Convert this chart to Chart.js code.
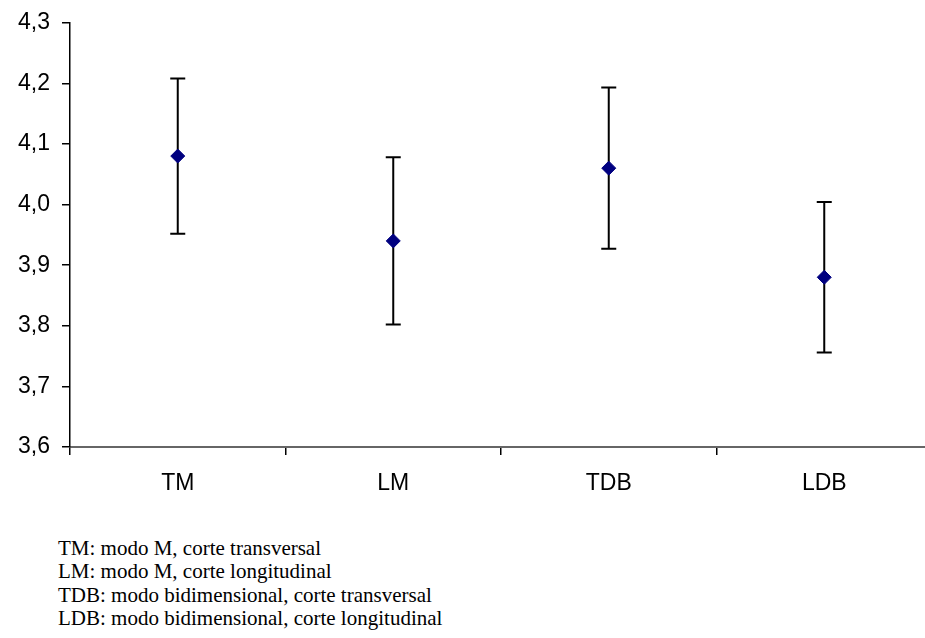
<!DOCTYPE html>
<html>
<head>
<meta charset="utf-8">
<script src="https://cdn.jsdelivr.net/npm/chart.js@4"></script>
<style>
html, body { margin: 0; padding: 0; background: #fff; overflow: hidden; width: 925px; height: 638px; }
#wrap { position: absolute; left: 0; top: 0; width: 940px; height: 520px; }
#notes { position: absolute; left: 58px; top: 536.5px; font-family: "Liberation Serif", "Times New Roman", serif; font-size: 21px; line-height: 23.6px; color: #000; white-space: nowrap; }
</style>
</head>
<body>
<div id="wrap"><canvas id="c" width="940" height="520"></canvas></div>
<div id="notes">
<div>TM: modo M, corte transversal</div>
<div>LM: modo M, corte longitudinal</div>
<div>TDB: modo bidimensional, corte transversal</div>
<div>LDB: modo bidimensional, corte longitudinal</div>
</div>
<script>
const categories = ["TM", "LM", "TDB", "LDB"];
const means = [4.08, 3.94, 4.06, 3.88];
const errors = [0.128, 0.138, 0.133, 0.124];
const yMin = 3.6, yMax = 4.3, yStep = 0.1;

const errorBars = {
  id: 'errorBars',
  beforeDatasetsDraw(chart) {
    const ctx = chart.ctx;
    const xs = chart.scales.x, ys = chart.scales.y;
    ctx.save();
    ctx.strokeStyle = '#000';
    ctx.lineWidth = 2;
    means.forEach((m, i) => {
      const x = xs.getPixelForValue(i);
      const yt = ys.getPixelForValue(m + errors[i]);
      const yb = ys.getPixelForValue(m - errors[i]);
      ctx.beginPath();
      ctx.moveTo(x, yt); ctx.lineTo(x, yb);
      ctx.moveTo(x - 7.5, yt); ctx.lineTo(x + 7.5, yt);
      ctx.moveTo(x - 7.5, yb); ctx.lineTo(x + 7.5, yb);
      ctx.stroke();
    });
    ctx.restore();
  }
};

new Chart(document.getElementById('c'), {
  type: 'line',
  data: {
    labels: categories,
    datasets: [{
      data: means,
      showLine: false,
      pointStyle: 'rectRot',
      pointRadius: 7,
      pointHoverRadius: 7,
      pointBackgroundColor: '#000080',
      pointBorderColor: '#000080',
      pointBorderWidth: 1
    }]
  },
  options: {
    responsive: false,
    animation: false,
    events: [],
    layout: { padding: { top: 22.7, right: 6, left: 0, bottom: 0 } },
    plugins: { legend: { display: false }, tooltip: { enabled: false } },
    scales: {
      x: {
        offset: true,
        grid: { offset: true, drawOnChartArea: false, drawTicks: true, tickLength: 8, color: '#000', lineWidth: 1.5 },
        border: { display: true, color: '#666', width: 2 },
        ticks: { color: '#000', font: { family: 'Liberation Sans, Arial, sans-serif', size: 23 }, padding: 15, maxRotation: 0 },
        afterFit(s) { s.height = 73; }
      },
      y: {
        min: yMin, max: yMax,
        grid: { drawOnChartArea: false, drawTicks: true, tickLength: 8, color: '#000', lineWidth: 1.5 },
        border: { display: true, color: '#000', width: 1.5 },
        ticks: {
          stepSize: yStep, color: '#000', padding: 12,
          font: { family: 'Liberation Sans, Arial, sans-serif', size: 23 },
          callback: v => v.toFixed(1).replace('.', ',')
        },
        afterFit(s) { s.width = 70; s.paddingTop = 0; s.paddingBottom = 0; }
      }
    }
  },
  plugins: [errorBars]
});
</script>
</body>
</html>
